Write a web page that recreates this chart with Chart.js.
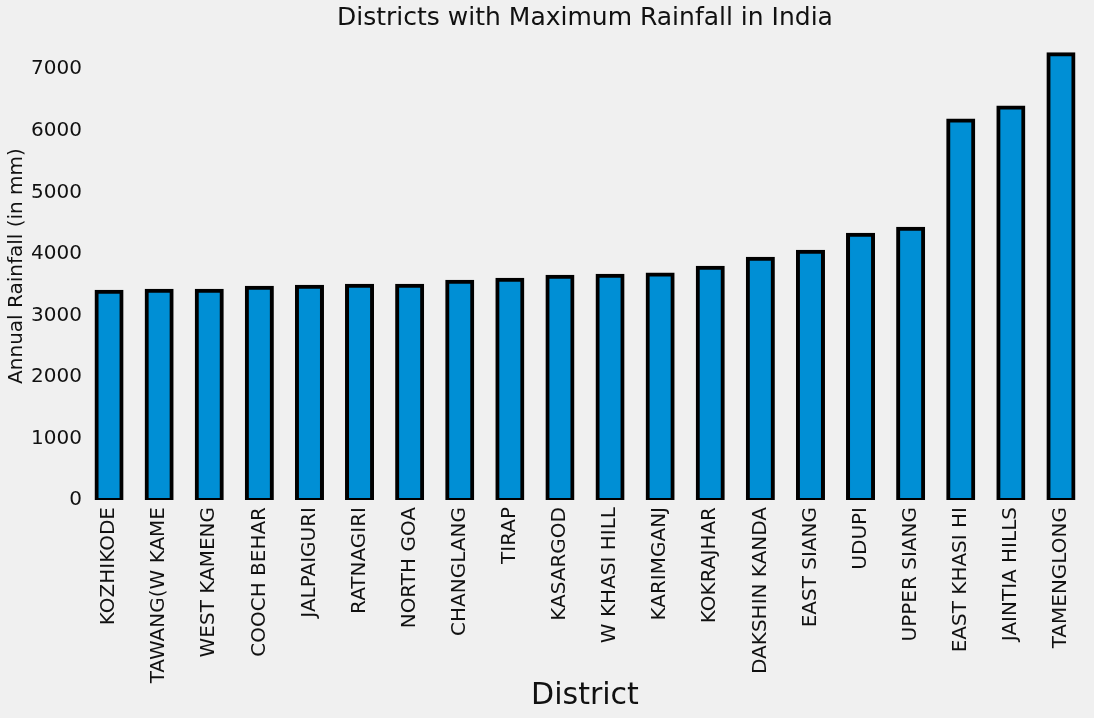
<!DOCTYPE html>
<html>
<head>
<meta charset="utf-8">
<script src="https://cdn.jsdelivr.net/npm/chart.js@4/dist/chart.umd.min.js"></script>
<style>
  html, body { margin: 0; padding: 0; background: #f0f0f0; }
  #wrap { width: 1094px; height: 718px; position: relative; }
</style>
</head>
<body>
<div id="wrap"><canvas id="c"></canvas></div>
<script>
const districts = ["KOZHIKODE", "TAWANG(W KAME", "WEST KAMENG", "COOCH BEHAR", "JALPAIGURI",
  "RATNAGIRI", "NORTH GOA", "CHANGLANG", "TIRAP", "KASARGOD", "W KHASI HILL", "KARIMGANJ",
  "KOKRAJHAR", "DAKSHIN KANDA", "EAST SIANG", "UDUPI", "UPPER SIANG", "EAST KHASI HI",
  "JAINTIA HILLS", "TAMENGLONG"];
const annualRainfall = [3383, 3399, 3399, 3448, 3464, 3480, 3480, 3546, 3578, 3627, 3643,
  3664, 3774, 3920, 4034, 4311, 4409, 6168, 6379, 7243];
const yTicks = [0, 1000, 2000, 3000, 4000, 5000, 6000, 7000];
const yMax = 7605;
const chartTitle = 'Districts with Maximum Rainfall in India';

const FONT = "'DejaVu Sans', sans-serif";
const TEXT = '#111111';

const titlePlugin = {
  id: 'areaTitle',
  afterDraw(chart) {
    const { ctx, chartArea } = chart;
    ctx.save();
    ctx.font = "25px " + FONT;
    ctx.fillStyle = TEXT;
    ctx.textAlign = 'center';
    ctx.textBaseline = 'middle';
    ctx.fillText(chartTitle, (chartArea.left + chartArea.right) / 2, 18);
    ctx.restore();
  }
};

new Chart(document.getElementById('c'), {
  type: 'bar',
  data: {
    labels: districts,
    datasets: [{
      data: annualRainfall,
      backgroundColor: '#008fd5',
      borderColor: '#000000',
      borderWidth: 4,
      borderSkipped: false,
      inflateAmount: 2,
      clip: 0,
      categoryPercentage: 1.0,
      barPercentage: 0.5
    }]
  },
  plugins: [titlePlugin],
  options: {
    responsive: true,
    maintainAspectRatio: false,
    animation: false,
    layout: { padding: { top: 32, right: 8, bottom: 4, left: 0 } },
    plugins: {
      legend: { display: false },
      tooltip: { enabled: false },
      title: { display: false }
    },
    scales: {
      x: {
        grid: { display: false, drawTicks: false },
        border: { display: false },
        ticks: {
          color: TEXT,
          font: { family: FONT, size: 20 },
          minRotation: 90,
          maxRotation: 90,
          autoSkip: false,
          padding: 7
        },
        title: {
          display: true,
          text: 'District',
          color: TEXT,
          font: { family: FONT, size: 30 },
          padding: { top: 4, bottom: 0 }
        },
        afterFit: (s) => { s.height = 214; }
      },
      y: {
        min: 0,
        max: yMax,
        grid: { display: false, drawTicks: false },
        border: { display: false },
        afterBuildTicks: (s) => { s.ticks = yTicks.map(v => ({ value: v })); },
        ticks: {
          color: TEXT,
          font: { family: FONT, size: 20 },
          padding: 2,
          callback: (v) => String(v)
        },
        title: {
          display: true,
          text: 'Annual Rainfall (in mm)',
          color: TEXT,
          font: { family: FONT, size: 20 },
          padding: { top: 5, bottom: 2 }
        },
        afterFit: (s) => { s.width = 84; }
      }
    }
  }
});
</script>
</body>
</html>
